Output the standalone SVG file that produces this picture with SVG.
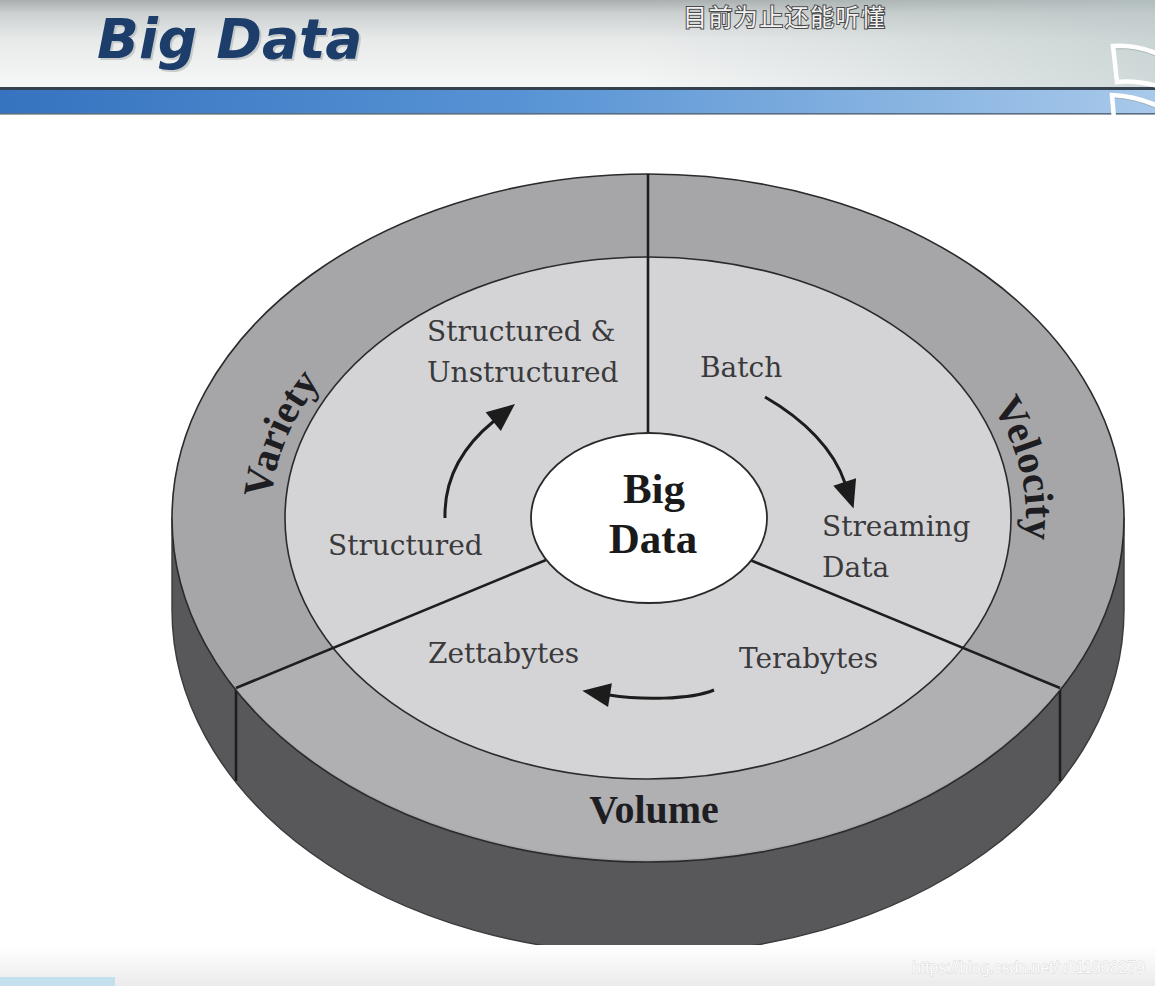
<svg xmlns="http://www.w3.org/2000/svg" width="1155" height="986" viewBox="0 0 1155 986">
<defs>
<linearGradient id="hdr" x1="0" y1="0" x2="0" y2="1">
<stop offset="0" stop-color="#a9aeae"/>
<stop offset="0.15" stop-color="#ccd0d0"/>
<stop offset="0.45" stop-color="#e8eaea"/>
<stop offset="1" stop-color="#f6f7f7"/>
</linearGradient>
<linearGradient id="hdrR" x1="0" y1="0" x2="1" y2="0">
<stop offset="0.55" stop-color="#b8c6c6" stop-opacity="0"/>
<stop offset="1" stop-color="#b8c6c6" stop-opacity="0.6"/>
</linearGradient>
<linearGradient id="band" x1="0" y1="0" x2="1" y2="0">
<stop offset="0" stop-color="#3673c0"/>
<stop offset="0.45" stop-color="#5793d4"/>
<stop offset="1" stop-color="#a8c9ea"/>
</linearGradient>
<linearGradient id="foot" x1="0" y1="0" x2="0" y2="1">
<stop offset="0" stop-color="#ffffff"/>
<stop offset="1" stop-color="#ebebeb"/>
</linearGradient>
<marker id="ah" markerUnits="userSpaceOnUse" viewBox="-2 -14 32 28" refX="1" refY="0" markerWidth="32" markerHeight="28" orient="auto">
<path d="M0,-12 L28,0 L0,12 Z" fill="#1c1c1c"/>
</marker>
<path id="pVariety" d="M279.7,579.2 A378,272 0 0 1 395.1,315.9"/>
<path id="pVelocity" d="M928.9,336 A378,272 0 0 1 1005.4,606.6"/>
</defs>
<style>
.lbl{font-family:"DejaVu Serif","Liberation Serif",serif;font-size:28px;fill:#3a3a3c}
.ring{font-family:"Liberation Serif","DejaVu Serif",serif;font-size:41px;font-weight:bold;fill:#1e1e22}
.edge{fill:none;stroke:#2a2a2c;stroke-width:1.6}
.div{stroke:#1e1e20;stroke-width:2.6;fill:none}
.arrow{fill:none;stroke:#1c1c1c;stroke-width:3;marker-end:url(#ah)}
</style>
<rect x="0" y="0" width="1155" height="986" fill="#ffffff"/>
<g id="header">
<rect x="0" y="0" width="1155" height="88" fill="url(#hdr)"/>
<rect x="0" y="0" width="1155" height="88" fill="url(#hdrR)"/>
<rect x="0" y="87" width="1155" height="3" fill="#34414f"/>
<rect x="0" y="90" width="1155" height="23" fill="url(#band)"/>
<rect x="0" y="113" width="1155" height="1.6" fill="#5b6d80"/>
<text x="99" y="60" font-family="DejaVu Sans, Verdana, sans-serif" font-size="55" font-weight="bold" font-style="italic" fill="#b8bcbc" opacity="0.7">Big Data</text>
<text x="97" y="58" font-family="DejaVu Sans, Verdana, sans-serif" font-size="55" font-weight="bold" font-style="italic" fill="#1d3d6b">Big Data</text>
<text x="683" y="26" font-family="Noto Sans CJK SC, sans-serif" font-size="24" fill="#f2f2f2" stroke="#4a4a4a" stroke-width="2" paint-order="stroke" textLength="202">目前为止还能听懂</text>
<g fill="none" stroke="#ffffff" stroke-width="4.5">
<path d="M1113,46 Q1135,44 1158,54 L1158,86 Q1136,80 1117,82 Z"/>
<path d="M1112,95 Q1135,96 1158,106 L1158,140 Q1136,132 1115,131 Z"/>
</g>
<g fill="none" stroke="#9aa4a4" stroke-width="0.8" opacity="0.7">
<path d="M1116,49 Q1135,47 1158,57"/>
<path d="M1115,98 Q1135,99 1158,109"/>
</g>
</g>
<g id="disc">
<path d="M172,518 L172,610 A476,344 0 0 0 1124,610 L1124,518 Z" fill="#58585b" stroke="#3a3a3c" stroke-width="1.4"/>
<line x1="236" y1="688" x2="236" y2="781" class="div"/>
<line x1="1060" y1="688" x2="1060" y2="781" class="div"/>
<ellipse cx="648" cy="518" rx="476" ry="344" fill="#a6a6a9"/>
<path d="M236,688 A476,344 0 0 0 1060,688 L963,649 A363,261 0 0 1 333,649 Z" fill="#b0b0b3"/>
<ellipse cx="648" cy="518" rx="476" ry="344" class="edge"/>
<ellipse cx="648" cy="518" rx="363" ry="261" fill="#d4d4d6" stroke="#2a2a2c" stroke-width="1.6"/>
<line x1="648" y1="174" x2="648" y2="434" class="div"/>
<line x1="546" y1="560" x2="236" y2="688" class="div"/>
<line x1="750" y1="560" x2="1060" y2="688" class="div"/>
</g>
<g id="node-bigdata">
<ellipse cx="649" cy="518" rx="118" ry="85" fill="#ffffff" stroke="#2a2a2c" stroke-width="1.8"/>
<text x="654" y="503" text-anchor="middle" font-family="Liberation Serif, serif" font-size="43" font-weight="bold" fill="#1a1a1a">Big</text>
<text x="653" y="553" text-anchor="middle" font-family="Liberation Serif, serif" font-size="43" font-weight="bold" fill="#1a1a1a">Data</text>
</g>
<g id="node-variety">
<text class="ring" text-anchor="middle"><textPath href="#pVariety" startOffset="47%">Variety</textPath></text>
<text class="lbl" x="427" y="341">Structured &amp;</text>
<text class="lbl" x="427" y="382">Unstructured</text>
<text class="lbl" x="328" y="555">Structured</text>
</g>
<g id="node-velocity">
<text class="ring" text-anchor="middle"><textPath href="#pVelocity" startOffset="54%">Velocity</textPath></text>
<text class="lbl" x="700" y="377">Batch</text>
<text class="lbl" x="822" y="536">Streaming</text>
<text class="lbl" x="822" y="577">Data</text>
</g>
<g id="node-volume">
<text class="ring" x="654" y="823" text-anchor="middle" style="font-size:40px">Volume</text>
<text class="lbl" x="428" y="663">Zettabytes</text>
<text class="lbl" x="739" y="668">Terabytes</text>
</g>
<g id="connectors">
<path class="arrow" d="M445,518 C444,478 462,447 494,421"/>
<path class="arrow" d="M765,397 C805,420 834,450 845,483"/>
<path class="arrow" d="M714,690 C690,700 640,700 609,695"/>
</g>
<g id="footer">
<rect x="0" y="945" width="1155" height="41" fill="url(#foot)"/>
<rect x="0" y="977" width="115" height="9" fill="#c4e0ee"/>
<text x="912" y="973" font-family="Liberation Sans, Arial, sans-serif" font-size="16" fill="#fbfbfb" stroke="#d6d6d6" stroke-width="0.8" paint-order="stroke" textLength="233">https://blog.csdn.net/u011868279</text>
</g>
</svg>
